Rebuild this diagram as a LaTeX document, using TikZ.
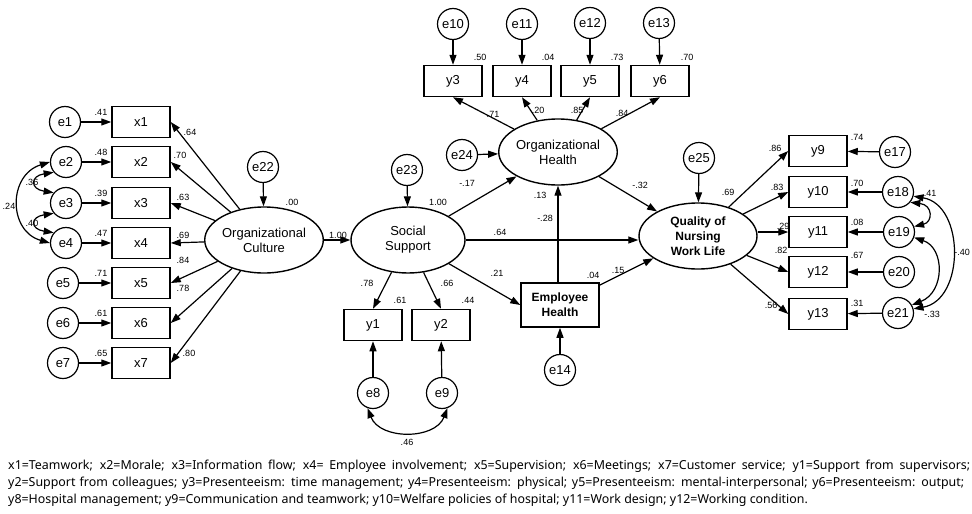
\documentclass[tikz,border=0pt]{standalone}
\usepackage{fontspec}
\setmainfont{Liberation Sans}
\newfontfamily\capfont{Noto Sans}
\usetikzlibrary{arrows.meta,shapes.geometric}
\tikzset{
  err/.style={circle,draw,line width=1.2pt,minimum size=31pt,inner sep=0pt,font=\fontsize{13}{14}\selectfont},
  obs/.style={rectangle,draw,line width=1.5pt,minimum width=58pt,minimum height=31pt,inner sep=0pt,font=\fontsize{13}{14}\selectfont},
  lat/.style={ellipse,draw,line width=1.4pt,minimum width=114pt,minimum height=66pt,inner sep=0pt,align=center,font=\fontsize{13}{15}\selectfont},
  lab/.style={inner sep=0pt,font=\fontsize{9}{10}\selectfont},
  arr/.style={line width=1.2pt,-{Triangle[length=10pt,width=7pt]}},
  cov/.style={line width=1.2pt,{Triangle[length=10pt,width=7pt]}-{Triangle[length=10pt,width=7pt]}},
  capline/.style={anchor=west,inner sep=0pt,font=\capfont\fontsize{12.4}{14}\selectfont}
}
\begin{document}
\begin{tikzpicture}[x=1pt,y=-1pt]
\useasboundingbox (0,0) rectangle (972,514);
% left block
\node[err] (e1) at (65,122) {e1};
\node[err] (e2) at (66,162) {e2};
\node[err] (e3) at (66,203) {e3};
\node[err] (e4) at (66,243) {e4};
\node[err] (e5) at (63,283) {e5};
\node[err] (e6) at (63,323) {e6};
\node[err] (e7) at (63,363) {e7};
\node[obs] (x1) at (141,122) {x1};
\node[obs] (x2) at (141,162) {x2};
\node[obs] (x3) at (141,203) {x3};
\node[obs] (x4) at (141,243) {x4};
\node[obs] (x5) at (141,283) {x5};
\node[obs] (x6) at (141,323) {x6};
\node[obs] (x7) at (141,363) {x7};
\foreach \i in {1,...,7} {\draw[arr] (e\i) -- (x\i);}
\node[lab] (l41) at (101,112) {.41};
\node[lab] (l48) at (101,152) {.48};
\node[lab] (l39) at (101,193) {.39};
\node[lab] (l47) at (101,233) {.47};
\node[lab] (l71) at (101,273) {.71};
\node[lab] (l61) at (101,313) {.61};
\node[lab] (l65) at (101,353) {.65};
\draw[cov] (e2.220) .. controls (30,176) and (30,189) .. (e3.140);
\draw[cov] (e3.220) .. controls (30,217) and (30,229) .. (e4.140);
\draw[cov] (e2.180) .. controls (8,175) and (8,231) .. (e4.180);
\node[lab] (l36) at (32,182) {.36};
\node[lab] (l40) at (32,223) {.40};
\node[lab] (l24) at (9,206) {.24};
% Organizational culture
\node[lat] (OC) at (264,240) {Organizational\\Culture};
\node[err] (e22) at (263,167) {e22};
\draw[arr] (e22) -- (OC);
\node[lab] (l00) at (292,202) {.00};
\foreach \i in {1,...,7} {\draw[arr] (OC) -- (x\i.east);}
\node[lab] (m64) at (190,132) {.64};
\node[lab] (m70) at (180,155) {.70};
\node[lab] (m63) at (183,197) {.63};
\node[lab] (m69) at (183,235) {.69};
\node[lab] (m84) at (183,260) {.84};
\node[lab] (m78) at (183,288) {.78};
\node[lab] (m80) at (189,353) {.80};
% Social support
\node[lat] (SS) at (408,240) {Social\\Support};
\node[err] (e23) at (407,170) {e23};
\draw[arr] (e23) -- (SS);
\draw[arr] (OC) -- (SS);
\node[lab] (s100a) at (338,235) {1.00};
\node[lab] (s100b) at (438,202) {1.00};
\node[obs] (y1) at (373,325) {y1};
\node[obs] (y2) at (441,325) {y2};
\node[err] (e8) at (373,393) {e8};
\node[err] (e9) at (442,393) {e9};
\draw[arr] (SS) -- (y1.north);
\draw[arr] (SS) -- (y2.north);
\draw[arr] (e8) -- (y1);
\draw[arr] (e9) -- (y2);
\draw[cov] (e8.250) .. controls (380,440) and (435,440) .. (e9.290);
\node[lab] (s78) at (367,283) {.78};
\node[lab] (s66) at (447,283) {.66};
\node[lab] (s61) at (400,300) {.61};
\node[lab] (s44) at (468,300) {.44};
\node[lab] (s46) at (407,442) {.46};
% Employee health
\node[obs,minimum width=78pt,minimum height=44pt,align=center,font=\bfseries\fontsize{12}{15}\selectfont] (EH) at (560,305) {Employee\\Health};
\node[err] (e14) at (560,370) {e14};
\draw[arr] (e14) -- (EH);
\draw[arr] (SS) -- (EH.west);
\node[lab] (s21) at (497,273) {.21};
\node[lab] (h04) at (593,275) {.04};
% Organizational health
\node[lat] (OH) at (558,152) {Organizational\\Health};
\node[err] (e24) at (462,155) {e24};
\draw[arr] (e24) -- (OH);
\draw[arr] (SS) -- (OH);
\node[lab] (s17) at (467,183) {-.17};
\draw[arr] (EH.north -| OH.south) -- (OH.south);
\node[lab] (h13) at (540,195) {.13};
\node[lab] (h28) at (545,218) {-.28};
\node[obs] (y3) at (453,81) {y3};
\node[obs] (y4) at (522,81) {y4};
\node[obs] (y5) at (590,81) {y5};
\node[obs] (y6) at (660,81) {y6};
\node[err] (e10) at (453,24) {e10};
\node[err] (e11) at (522,24) {e11};
\node[err] (e12) at (590,23) {e12};
\node[err] (e13) at (659,23) {e13};
\foreach \a/\b in {10/3,11/4,12/5,13/6} {\draw[arr] (e\a) -- (y\b);}
\foreach \b in {3,4,5,6} {\draw[arr] (OH) -- (y\b.south);}
\node[lab] (o50) at (480,57) {.50};
\node[lab] (o04) at (548,57) {.04};
\node[lab] (o73) at (617,57) {.73};
\node[lab] (o70) at (687,57) {.70};
\node[lab] (o71) at (493,114) {.71};
\node[lab] (o20) at (538,110) {.20};
\node[lab] (o85) at (577,110) {.85};
\node[lab] (o84) at (622,113) {.84};
% Quality of nursing work life
\node[lat,minimum width=118pt,font=\bfseries\fontsize{12}{15}\selectfont] (QN) at (698,236) {Quality of\\Nursing\\Work Life};
\node[err] (e25) at (699,158) {e25};
\draw[arr] (e25) -- (QN);
\node[lab] (q69) at (728,192) {.69};
\draw[arr] (OH) -- (QN);
\node[lab] (o32) at (640,185) {-.32};
\draw[arr] (SS.east) -- (SS.east -| QN.west);
\node[lab] (s64) at (500,232) {.64};
\draw[arr] (EH) -- (QN);
\node[lab] (h15) at (618,270) {.15};
\node[obs] (y9) at (818,151) {y9};
\node[obs] (y10) at (818,192) {y10};
\node[obs] (y11) at (818,232) {y11};
\node[obs] (y12) at (818,272) {y12};
\node[obs] (y13) at (818,314) {y13};
\node[err] (e17) at (895,152) {e17};
\node[err] (e18) at (898,192) {e18};
\node[err] (e19) at (899,232) {e19};
\node[err] (e20) at (899,272) {e20};
\node[err] (e21) at (898,313) {e21};
\foreach \a/\b in {17/9,18/10,19/11,20/12,21/13} {\draw[arr] (e\a) -- (y\b);}
\foreach \b in {9,10,12,13} {\draw[arr] (QN) -- (y\b.west);}
\draw[arr] (QN.east |- y11.west) -- (y11.west);
\node[lab] (q86) at (775,148) {.86};
\node[lab] (q83) at (777,187) {.83};
\node[lab] (q29) at (783,226) {.29};
\node[lab] (q82) at (781,250) {.82};
\node[lab] (q56) at (771,305) {.56};
\node[lab] (r74) at (857,137) {.74};
\node[lab] (r70) at (857,183) {.70};
\node[lab] (r08) at (857,222) {.08};
\node[lab] (r67) at (857,255) {.67};
\node[lab] (r31) at (857,303) {.31};
\draw[cov] (e18.320) .. controls (933,205) and (933,222) .. (e19.20);
\draw[cov] (e19.340) .. controls (945,248) and (945,292) .. (e21.30);
\draw[cov] (e18.345) .. controls (965,205) and (965,300) .. (e21.15);
\node[lab] (r41) at (930,193) {.41};
\node[lab] (r40) at (962,252) {-.40};
\node[lab] (r33) at (932,314) {-.33};
% caption
\node[capline] (c1) at (8,466) {\makebox[962pt][s]{x1=Teamwork; x2=Morale; x3=Information flow; x4= Employee involvement; x5=Supervision; x6=Meetings; x7=Customer service; y1=Support from supervisors;}};
\node[capline] (c2) at (8,483) {\makebox[956pt][s]{y2=Support from colleagues; y3=Presenteeism: time management; y4=Presenteeism: physical; y5=Presenteeism: mental-interpersonal; y6=Presenteeism: output;}};
\node[capline] (c3) at (8,500) {y8=Hospital management; y9=Communication and teamwork; y10=Welfare policies of hospital; y11=Work design; y12=Working condition.};
\end{tikzpicture}
\end{document}
